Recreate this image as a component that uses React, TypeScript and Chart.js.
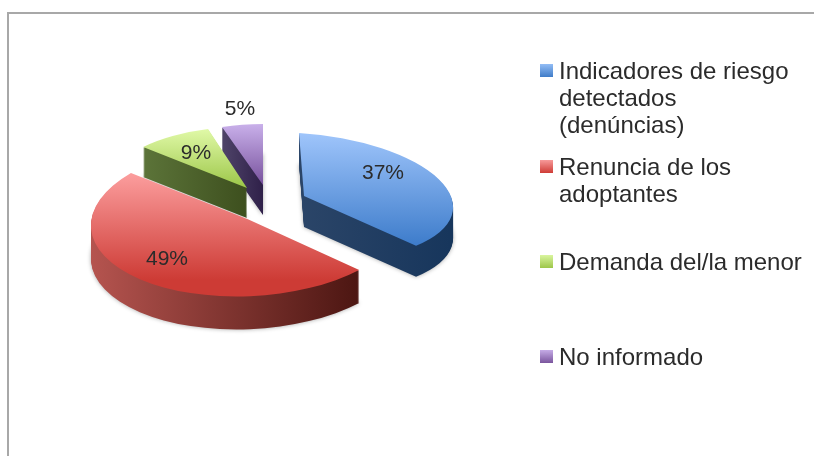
import React, { useEffect, useRef } from "react";
import { Chart, registerables } from "chart.js";

Chart.register(...registerables);

const categories: string[][] = [
  ["Indicadores de riesgo", "detectados", "(denúncias)"],
  ["Renuncia de los", "adoptantes"],
  ["Demanda del/la menor"],
  ["No informado"],
];
const shares: number[] = [37, 49, 9, 5];

// Per-slice projection of the pie (an exploded, tilted 3D pie)
const projections = [
  { ax: 304, ay: 196, a: 149, c: 5, b: 9, d: 63, depth: 31, top: ["#9fc5fb", "#3c7bca", 133, 247], side: ["#2b4568", "#17365c", 300, 450], label: [383, 172] },
  { ax: 248.5, ay: 219.6, a: 157.5, c: -6, b: -3, d: 76.8, depth: 33, top: ["#fb9c9c", "#cd3b35", 175, 280], side: ["#b5544f", "#4c1612", 91, 359], label: [167, 258] },
  { ax: 247, ay: 188, a: 138, c: -3.9, b: 2.7, d: 61.1, depth: 30, top: ["#dff8a6", "#9cc648", 130, 188], side: ["#5c7439", "#3d4f1e", 143, 247], label: [196, 152] },
  { ax: 263, ay: 185, a: 132.7, c: 0, b: 0, d: 61, depth: 30, top: ["#c9b0ea", "#77519c", 124, 185], side: ["#4f4469", "#2f2049", 222, 263], label: [240, 108] },
];
const drawOrder = [3, 2, 0, 1];
const legendRows = [64, 160, 255, 350];
const legendSwatches = [
  ["#93bdf5", "#3f7cc8"],
  ["#f79a9a", "#cf3c36"],
  ["#d9f59e", "#9dc64a"],
  ["#c5abe6", "#7a559d"],
];
const textColor = "#2b2b2b";
const fontName = '"Liberation Sans", Arial, sans-serif';

// Gradient whose colour bands run straight across the screen, whatever the slice's projection
function axisGradient(ctx: CanvasRenderingContext2D, axis: "x" | "y", v0: number, v1: number, c0: string, c1: string) {
  const m = ctx.getTransform();
  const [gx, gy, k] = axis === "x" ? [m.a, m.c, m.e] : [m.b, m.d, m.f];
  const n = gx * gx + gy * gy;
  const g = ctx.createLinearGradient(gx * (v0 - k) / n, gy * (v0 - k) / n, gx * (v1 - k) / n, gy * (v1 - k) / n);
  g.addColorStop(0, c0);
  g.addColorStop(1, c1);
  return g;
}

const pie3d = {
  id: "pie3d",
  beforeDraw(chart: any) {
    const ctx = chart.ctx;
    ctx.save();
    ctx.fillStyle = "#ffffff";
    ctx.fillRect(0, 0, chart.width, chart.height);
    ctx.fillStyle = "#a8a8a8";
    ctx.fillRect(7, 12, chart.width - 7, 2);
    ctx.fillRect(7, 12, 2, chart.height - 12 - 3);
    ctx.restore();
  },
  beforeDatasetsDraw(chart: any) {
    const ctx = chart.ctx as CanvasRenderingContext2D;
    const arcs = chart.getDatasetMeta(0).data;
    for (const i of drawOrder) {
      const arc = arcs[i];
      const p = projections[i];
      const R = arc.outerRadius;
      const e = p.ax - (p.a * arc.x + p.c * arc.y) / R;
      const f = p.ay - (p.b * arc.x + p.d * arc.y) / R;
      const paint = (dy: number, fill: (c: CanvasRenderingContext2D) => any, shadow: boolean) => {
        ctx.save();
        ctx.translate(0, dy);
        ctx.transform(p.a / R, p.b / R, p.c / R, p.d / R, e, f);
        if (shadow) {
          ctx.shadowColor = "rgba(0,0,0,0.35)";
          ctx.shadowBlur = 4;
        }
        const saved = arc.options;
        const o = Object.create(saved);
        o.backgroundColor = fill(ctx);
        o.borderWidth = 0;
        arc.options = o;
        arc.draw(ctx);
        arc.options = saved;
        ctx.restore();
      };
      const [s0, s1, sx0, sx1] = p.side as [string, string, number, number];
      const [t0, t1, ty0, ty1] = p.top as [string, string, number, number];
      for (let k = p.depth; k >= 1; k--) {
        paint(k, (c) => axisGradient(c, "x", sx0, sx1, s0, s1), k === p.depth);
      }
      paint(0, (c) => axisGradient(c, "y", ty0, ty1, t0, t1), false);
    }
    return false;
  },
  afterDraw(chart: any) {
    const ctx = chart.ctx as CanvasRenderingContext2D;
    ctx.save();
    ctx.fillStyle = textColor;
    ctx.font = `21px ${fontName}`;
    ctx.textAlign = "center";
    ctx.textBaseline = "middle";
    chart.data.datasets[0].data.forEach((v: number, i: number) => {
      const [x, y] = projections[i].label;
      ctx.fillText(`${v}%`, x, y + 1);
    });
    ctx.font = `24px ${fontName}`;
    ctx.textAlign = "left";
    chart.data.labels.forEach((lines: string[], i: number) => {
      const top = legendRows[i];
      const g = ctx.createLinearGradient(0, top, 0, top + 13);
      g.addColorStop(0, legendSwatches[i][0]);
      g.addColorStop(1, legendSwatches[i][1]);
      ctx.fillStyle = g;
      ctx.fillRect(540, top, 13, 13);
      ctx.fillStyle = textColor;
      lines.forEach((line, j) => ctx.fillText(line, 559, top + 8 + j * 27));
    });
    ctx.restore();
  },
};

export default function App() {
  const ref = useRef<HTMLCanvasElement>(null);
  useEffect(() => {
    const chart = new Chart(ref.current!, {
      type: "pie",
      data: {
        labels: categories as any,
        datasets: [{ data: shares, borderWidth: 0, backgroundColor: legendSwatches.map((s) => s[1]) }],
      },
      options: {
        responsive: false,
        animation: false,
        plugins: { legend: { display: false }, tooltip: { enabled: false } },
      },
      plugins: [pie3d as any],
    });
    return () => chart.destroy();
  }, []);
  return (
    <div style={{ position: "fixed", left: 0, top: 0, width: 814, height: 459 }}>
      <canvas ref={ref} width={814} height={459} style={{ display: "block" }} />
    </div>
  );
}
